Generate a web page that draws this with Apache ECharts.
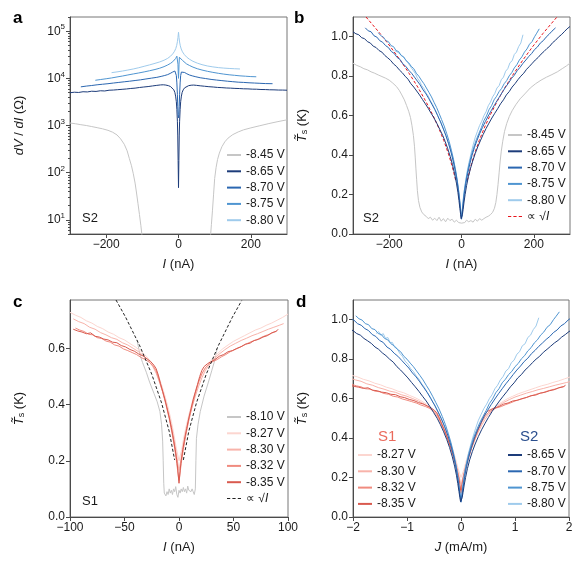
<!DOCTYPE html>
<html>
<head>
<meta charset="utf-8">
<script src="https://cdn.jsdelivr.net/npm/echarts@6/dist/echarts.min.js"></script>
<style>
html, body { margin: 0; padding: 0; background: #fff; }
#chart { width: 588px; height: 575px; }
</style>
</head>
<body>
<div id="chart"></div>
<script>
// 面板 a: dV/dI (Ω) vs I (nA), 样品 S2
const a845 = [[-300,1130],[-285,1090],[-270,1040],[-255,1000],[-240,950],[-225,900],[-210,850],[-195,790],[-182,720],[-170,630],[-160,520],[-150,400],[-142,290],[-136,200],[-130,140],[-125,95],[-120,60],[-116,37],[-112,22],[-108,13],[-104,7.5],[-100,4],
  [0,'-'],
  [88,4],[91,8],[94,16],[97,35],[100,75],[104,130],[108,190],[113,260],[120,355],[128,450],[137,540],[150,640],[165,730],[180,810],[200,890],[225,990],[250,1100],[275,1210],[300,1320]];
const a865 = [[-300,4950],[-288,5080],[-276,5020],[-264,5200],[-252,5150],[-240,5330],[-228,5280],[-216,5450],[-204,5400],[-192,5600],[-180,5650],[-168,5750],[-156,5850],[-144,5950],[-132,6100],[-120,6200],[-108,6400],[-96,6550],[-84,6700],[-72,6900],[-60,7100],[-50,7250],[-42,7300],[-35,7200],[-28,7000],[-22,6700],[-17,6300],[-13,5700],[-10,5000],[-8,4200],[-6,3200],[-4.5,2200],[-3,1200],[-2,600],[-1,180],[0,48],[1,180],[2,600],[3,1200],[4.5,2200],[6,3200],[8,4200],[10,5000],[13,5700],[17,6300],[22,6700],[28,7000],[35,7150],[42,7200],[50,7100],[60,6950],[72,6800],[84,6650],[96,6550],[108,6420],[120,6350],[132,6250],[144,6200],[156,6120],[168,6080],[180,6000],[192,5980],[204,5900],[216,5880],[228,5800],[240,5780],[252,5720],[264,5700],[276,5650],[288,5640],[300,5600]];
const a870 = [[-270,6600],[-255,6850],[-240,7050],[-225,7300],[-210,7500],[-195,7700],[-180,7950],[-165,8200],[-150,8450],[-135,8700],[-120,9000],[-105,9300],[-90,9700],[-75,10100],[-60,10500],[-48,11000],[-38,11500],[-30,12000],[-23,12700],[-17,13500],[-13,14100],[-10,14300],[-8,13600],[-6,11500],[-4.5,8000],[-3,4500],[-2,2500],[-1,1700],[0,1450],[1,1700],[2,2500],[3,4500],[4.5,8000],[6,11500],[8,13600],[10,14200],[13,13900],[17,13300],[23,12500],[30,11800],[38,11300],[48,10800],[60,10300],[75,9900],[90,9500],[105,9200],[120,8950],[135,8700],[150,8500],[165,8300],[180,8200],[195,8050],[210,7950],[225,7850],[240,7750],[260,7700]];
const a875 = [[-230,9100],[-215,9450],[-200,9800],[-185,10200],[-170,10700],[-155,11200],[-140,11800],[-125,12400],[-110,13000],[-95,13700],[-80,14500],[-65,15400],[-52,16400],[-40,17700],[-30,19200],[-22,20800],[-16,22500],[-11,24500],[-8,26300],[-6,28000],[-4.5,29500],[-3.5,30000],[-2.5,28000],[-1.5,20000],[-0.7,13000],[0,10000],[0.7,13000],[1.5,20000],[2.5,28000],[3.5,30000],[4.5,29300],[6,27800],[8,26000],[11,24000],[16,22000],[22,20300],[30,18800],[40,17300],[52,16000],[65,15000],[80,14100],[95,13400],[110,12800],[125,12300],[140,11900],[155,11600],[170,11300],[185,11100],[200,10900],[215,10800]];
const a880 = [[-185,13200],[-170,13700],[-155,14300],[-140,15000],[-125,15800],[-110,16800],[-95,18000],[-80,19300],[-65,20800],[-52,22300],[-40,24200],[-30,26500],[-22,29500],[-16,33000],[-11,37500],[-7.5,43000],[-5,50000],[-3,60000],[-1.5,73000],[0,95000],[1.5,73000],[3,59000],[5,49000],[7.5,42000],[11,36500],[16,32000],[22,28500],[30,25500],[40,23000],[52,21000],[65,19500],[80,18300],[95,17500],[110,16900],[125,16500],[140,16200],[155,16000],[170,15800]];

// 面板 b: T_s (K) vs I (nA), 样品 S2
const b845 = [[-300,0.866],[-290,0.855],[-280,0.848],[-270,0.838],[-260,0.832],[-250,0.822],[-240,0.815],[-230,0.806],[-220,0.798],[-210,0.79],[-200,0.78],[-190,0.765],[-180,0.748],[-172,0.728],[-165,0.705],[-158,0.68],[-152,0.652],[-146,0.622],[-141,0.59],[-137,0.55],[-133,0.5],[-130,0.445],[-128,0.39],[-126,0.33],[-124,0.275],[-122,0.22],[-119,0.17],[-115,0.135],[-110,0.112],[-104,0.098],[-98,0.09],[-92,0.078],[-86,0.085],[-80,0.07],[-74,0.08],[-68,0.068],[-62,0.085],[-56,0.065],[-50,0.078],[-44,0.062],[-38,0.08],[-32,0.068],[-26,0.075],[-20,0.06],[-14,0.07],[-8,0.058],[-3,0.062],[0,0.055],[4,0.065],[9,0.058],[14,0.07],[20,0.062],[26,0.068],[32,0.06],[38,0.075],[44,0.065],[50,0.078],[56,0.07],[62,0.078],[68,0.085],[74,0.09],[80,0.098],[86,0.11],[91,0.13],[95,0.16],[98,0.2],[101,0.25],[104,0.31],[107,0.37],[110,0.42],[114,0.47],[119,0.52],[125,0.56],[132,0.595],[140,0.625],[150,0.655],[162,0.685],[175,0.71],[190,0.74],[205,0.762],[220,0.78],[235,0.795],[250,0.808],[265,0.822],[280,0.84],[290,0.852],[300,0.866]];
const b865 = [[-300,1.025],[-292,1.015],[-284,1.01],[-276,0.995],[-268,0.99],[-260,0.975],[-252,0.968],[-244,0.952],[-236,0.945],[-228,0.93],[-220,0.922],[-212,0.905],[-204,0.893],[-196,0.88],[-188,0.862],[-180,0.85],[-172,0.832],[-164,0.818],[-156,0.8],[-148,0.785],[-140,0.762],[-132,0.745],[-124,0.725],[-116,0.705],[-108,0.682],[-100,0.66],[-92,0.637],[-84,0.612],[-76,0.588],[-68,0.56],[-60,0.53],[-52,0.5],[-45,0.468],[-38,0.432],[-31,0.392],[-25,0.352],[-19,0.305],[-14,0.258],[-10,0.212],[-7,0.17],[-4.5,0.13],[-2.5,0.1],[-1,0.078],[0,0.07],[1,0.078],[2.5,0.098],[4.5,0.125],[7,0.162],[10,0.2],[14,0.245],[19,0.29],[25,0.333],[31,0.37],[38,0.408],[45,0.442],[52,0.472],[60,0.505],[68,0.535],[76,0.562],[84,0.588],[92,0.612],[100,0.635],[108,0.66],[116,0.68],[124,0.705],[132,0.722],[140,0.745],[148,0.762],[156,0.782],[164,0.8],[172,0.815],[180,0.835],[188,0.85],[196,0.866],[204,0.882],[212,0.895],[220,0.912],[228,0.925],[236,0.94],[244,0.952],[252,0.97],[260,0.982],[268,0.998],[276,1.01],[284,1.025],[292,1.04],[300,1.052]];
const b870 = [[-266,1.045],[-258,1.03],[-250,1.025],[-242,1.005],[-234,0.998],[-226,0.98],[-218,0.972],[-210,0.955],[-202,0.945],[-194,0.925],[-186,0.915],[-178,0.895],[-170,0.885],[-162,0.862],[-154,0.85],[-146,0.83],[-138,0.815],[-130,0.795],[-122,0.775],[-114,0.755],[-106,0.73],[-98,0.71],[-90,0.685],[-82,0.658],[-74,0.632],[-66,0.6],[-58,0.568],[-50,0.532],[-43,0.498],[-36,0.46],[-29,0.415],[-23,0.37],[-17,0.318],[-12,0.265],[-8,0.21],[-5,0.16],[-2.5,0.115],[-1,0.088],[0,0.075],[1,0.088],[2.5,0.112],[5,0.155],[8,0.205],[12,0.255],[17,0.305],[23,0.355],[29,0.398],[36,0.44],[43,0.475],[50,0.508],[58,0.54],[66,0.57],[74,0.598],[82,0.625],[90,0.65],[98,0.675],[106,0.698],[114,0.722],[122,0.745],[130,0.765],[138,0.788],[146,0.805],[154,0.828],[162,0.845],[170,0.865],[178,0.882],[186,0.9],[194,0.915],[202,0.935],[210,0.948],[218,0.968],[226,0.98],[234,0.998],[242,1.012],[250,1.028],[260,1.045]];
const b875 = [[-230,1.02],[-223,1.005],[-216,0.998],[-209,0.98],[-202,0.975],[-195,0.955],[-188,0.95],[-181,0.93],[-174,0.925],[-167,0.905],[-160,0.898],[-153,0.878],[-146,0.868],[-139,0.85],[-132,0.838],[-125,0.815],[-118,0.8],[-111,0.78],[-104,0.762],[-97,0.74],[-90,0.718],[-83,0.695],[-76,0.668],[-69,0.642],[-62,0.612],[-55,0.58],[-48,0.548],[-41,0.51],[-34,0.468],[-28,0.425],[-22,0.378],[-17,0.33],[-12,0.275],[-8,0.222],[-5,0.172],[-2.5,0.125],[-1,0.095],[0,0.08],[1,0.095],[2.5,0.125],[5,0.172],[8,0.222],[12,0.27],[17,0.32],[22,0.362],[28,0.405],[34,0.44],[41,0.478],[48,0.51],[55,0.54],[62,0.575],[69,0.598],[76,0.63],[83,0.65],[90,0.68],[97,0.698],[104,0.722],[111,0.738],[118,0.762],[125,0.778],[132,0.802],[139,0.818],[146,0.842],[153,0.858],[160,0.882],[167,0.898],[174,0.922],[181,0.938],[188,0.962],[195,0.975],[202,1.0],[208,1.018],[215,1.04]];
const b880 = [[-185,0.93],[-180,0.94],[-175,0.92],[-170,0.93],[-165,0.905],[-160,0.91],[-155,0.885],[-150,0.885],[-145,0.86],[-140,0.855],[-134,0.83],[-128,0.815],[-122,0.79],[-116,0.775],[-110,0.752],[-104,0.738],[-98,0.715],[-92,0.7],[-86,0.675],[-80,0.658],[-74,0.632],[-68,0.612],[-62,0.585],[-56,0.562],[-50,0.532],[-44,0.505],[-38,0.47],[-32,0.438],[-26,0.398],[-21,0.36],[-16,0.318],[-12,0.272],[-8,0.222],[-5,0.172],[-2.5,0.125],[-1,0.098],[0,0.085],[1,0.1],[2.5,0.13],[5,0.18],[8,0.225],[12,0.275],[16,0.32],[21,0.365],[26,0.405],[32,0.45],[38,0.49],[44,0.52],[50,0.55],[56,0.572],[62,0.6],[68,0.62],[74,0.65],[80,0.668],[86,0.695],[92,0.712],[98,0.74],[104,0.752],[110,0.782],[116,0.795],[122,0.825],[128,0.838],[134,0.868],[140,0.878],[146,0.91],[152,0.922],[158,0.95],[164,0.968],[170,1.01]];
// ∝ √I 拟合线 (b)
const bFit = [[-264,1.10],[-225,1.016],[-196,0.948],[-169,0.88],[-144,0.812],[-121,0.745],[-100,0.677],[-81,0.609],[-64,0.542],[-49,0.474],[-36,0.406],[-25,0.338],[-16,0.271],
  [0,'-'],
  [16,0.271],[25,0.338],[36,0.406],[49,0.474],[64,0.542],[81,0.609],[100,0.677],[121,0.745],[144,0.812],[169,0.88],[196,0.948],[225,1.016],[256,1.083],[266,1.104]];

// 面板 c: T_s (K) vs I (nA), 样品 S1
const c810 = [[-38.5,0.63],[-36,0.58],[-33.5,0.55],[-30,0.515],[-27,0.48],[-23,0.44],[-20,0.41],[-17.5,0.375],[-16,0.33],[-15,0.27],[-14.5,0.2],[-14,0.12],[-13.5,0.085],[-12,0.075],[-11,0.09],[-10,0.08],[-9,0.1],[-8,0.085],[-7,0.095],[-6,0.08],[-5,0.1],[-4,0.09],[-3,0.108],[-2,0.08],[-1,0.07],[0,0.095],[1,0.085],[2,0.1],[3,0.09],[4,0.105],[5,0.09],[6,0.1],[7,0.085],[8,0.11],[9,0.095],[10,0.1],[11,0.09],[12,0.1],[13,0.09],[14,0.08],[15,0.1],[15.5,0.2],[16,0.28],[17.5,0.33],[19.5,0.375],[23,0.43],[27,0.48],[30,0.52],[33,0.56],[35,0.6]];
const c827 = [[-100,0.728],[-95,0.718],[-90,0.71],[-85,0.698],[-80,0.69],[-75,0.678],[-70,0.67],[-65,0.658],[-60,0.65],[-55,0.638],[-50,0.63],[-45,0.617],[-40,0.605],[-35,0.59],[-30,0.572],[-26,0.553],[-22,0.53],[-19,0.505],[-16,0.47],[-13,0.432],[-10,0.39],[-7,0.34],[-4.5,0.29],[-2.5,0.245],[0,0.2],[2.5,0.24],[4.5,0.285],[7,0.33],[10,0.378],[13,0.42],[16,0.458],[19,0.49],[22,0.515],[26,0.54],[30,0.56],[35,0.58],[40,0.598],[45,0.612],[50,0.625],[55,0.635],[60,0.645],[65,0.655],[70,0.665],[75,0.672],[80,0.682],[85,0.69],[90,0.7],[95,0.71],[100,0.722]];
const c830 = [[-97,0.705],[-92,0.695],[-87,0.688],[-82,0.675],[-77,0.668],[-72,0.656],[-67,0.648],[-62,0.638],[-57,0.632],[-52,0.62],[-47,0.612],[-42,0.6],[-37,0.588],[-32,0.572],[-28,0.556],[-24,0.535],[-21,0.512],[-18,0.48],[-15,0.445],[-12,0.405],[-9,0.36],[-6,0.305],[-4,0.262],[-2,0.215],[0,0.165],[2,0.21],[4,0.255],[6,0.295],[9,0.345],[12,0.39],[15,0.43],[18,0.465],[21,0.495],[24,0.52],[28,0.543],[32,0.562],[37,0.58],[42,0.595],[47,0.608],[52,0.618],[57,0.628],[62,0.636],[67,0.645],[72,0.652],[77,0.66],[82,0.668],[87,0.675],[92,0.682],[96,0.688]];
const c832 = [[-95,0.672],[-91,0.665],[-87,0.66],[-83,0.65],[-79,0.648],[-75,0.638],[-71,0.635],[-67,0.626],[-63,0.622],[-59,0.612],[-55,0.608],[-51,0.598],[-47,0.592],[-43,0.585],[-39,0.578],[-35,0.568],[-31,0.56],[-27,0.55],[-24,0.538],[-21,0.52],[-18,0.485],[-15,0.445],[-12,0.4],[-9,0.35],[-6,0.29],[-4,0.245],[-2,0.19],[-0.5,0.14],[0,0.13],[0.5,0.14],[2,0.19],[4,0.24],[6,0.285],[9,0.345],[12,0.395],[15,0.44],[18,0.48],[21,0.51],[24,0.53],[27,0.542],[31,0.553],[35,0.56],[39,0.57],[43,0.578],[47,0.588],[51,0.595],[55,0.602],[59,0.61],[63,0.618],[67,0.625],[71,0.63],[75,0.638],[79,0.645],[83,0.65],[87,0.658],[90,0.662]];
const c835 = [[-97,0.668],[-93,0.662],[-89,0.658],[-85,0.652],[-81,0.655],[-77,0.643],[-73,0.64],[-69,0.633],[-65,0.63],[-61,0.622],[-57,0.62],[-53,0.61],[-49,0.605],[-45,0.596],[-41,0.59],[-37,0.58],[-33,0.573],[-29,0.562],[-26,0.553],[-23,0.54],[-21,0.528],[-19,0.505],[-17,0.475],[-15,0.448],[-13,0.42],[-11,0.388],[-9,0.355],[-7,0.318],[-5,0.275],[-3.5,0.24],[-2,0.2],[-1,0.165],[0,0.12],[1,0.165],[2,0.2],[3.5,0.24],[5,0.275],[7,0.315],[9,0.352],[11,0.385],[13,0.418],[15,0.445],[17,0.472],[19,0.5],[21,0.522],[23,0.535],[26,0.545],[29,0.552],[33,0.56],[37,0.572],[41,0.578],[45,0.588],[49,0.592],[53,0.6],[57,0.606],[61,0.615],[65,0.618],[69,0.628],[73,0.632],[77,0.64],[81,0.645],[85,0.655],[89,0.66],[91,0.668]];
// ∝ √I 拟合线 (c)
const cFit = [[-57.8,0.772],[-49,0.711],[-36,0.609],[-25,0.508],[-16,0.406],[-9,0.305],[-4,0.203],
  [0,'-'],
  [4,0.203],[9,0.305],[16,0.406],[25,0.508],[36,0.609],[49,0.711],[57.5,0.77]];

// 面板 d: 电流换算成线电流密度 J (mA/m) 所用的样品宽度 (nA per mA/m)
const W_S1 = 47;
const W_S2 = 118;
const toJ = (arr, w) => arr.map(p => [p[0] / w, p[1]]);

const FONT = '"Liberation Sans", Arial, sans-serif';
const TXT = '#1a1a1a';
const AX = '#4a4a4a';

const COL = {
    g: '#c6c6c6',
    v865: '#1d3c7a', v870: '#2b67b1', v875: '#4f95d1', v880: '#9fcbec',
    v827: '#fcd6d0', v830: '#f8b3aa', v832: '#f08b7f', v835: '#d95a4f'
};

const minus = v => (v < 0 ? '\u2212' + Math.abs(v) : String(v));

function line(name, data, xi, yi, color, extra) {
    return Object.assign({
        type: 'line', name: name, data: data,
        xAxisIndex: xi, yAxisIndex: yi,
        symbol: 'none', showSymbol: false, clip: true, animation: false,
        lineStyle: { color: color, width: 1 },
        itemStyle: { color: color },
        emphasis: { disabled: true }
    }, extra || {});
}

const nameStyle = {
    color: TXT, fontSize: 13, fontFamily: FONT,
    rich: {
        i: { fontStyle: 'italic', fontSize: 13, fontFamily: FONT, color: TXT },
        s: { fontSize: 9, fontFamily: FONT, color: TXT, verticalAlign: 'bottom', lineHeight: 10 }
    }
};

function axisBase(gi) {
    return {
        gridIndex: gi,
        axisLine: { show: true, onZero: false, lineStyle: { color: AX, width: 1 } },
        axisTick: { show: true, inside: false, length: 4, lineStyle: { color: AX } },
        splitLine: { show: false },
        axisLabel: { color: TXT, fontSize: 12, fontFamily: FONT, margin: 5 },
        nameTextStyle: nameStyle,
        nameLocation: 'middle'
    };
}

function xAx(gi, min, max, vals, label) {
    const a = axisBase(gi);
    a.type = 'value'; a.min = min; a.max = max;
    a.axisLabel.customValues = vals;
    a.axisLabel.formatter = minus;
    a.axisTick.customValues = vals;
    a.name = label; a.nameGap = 24;
    return a;
}

function yLin(gi, max) {
    const a = axisBase(gi);
    a.type = 'value'; a.min = 0; a.max = max;
    const vals = [0, 0.2, 0.4, 0.6, 0.8, 1.0].filter(v => v <= max);
    a.axisLabel.customValues = vals;
    a.axisLabel.formatter = v => v.toFixed(1);
    a.axisTick.customValues = vals;
    a.name = '{i|T\u0303}{s|s} (K)'; a.nameGap = 44;
    return a;
}

// 对数轴
const yLogA = axisBase(0);
Object.assign(yLogA, {
    type: 'log', logBase: 10, min: 5, max: 200000, position: 'left',
    name: '{i|dV} / {i|dI} (\u03a9)', nameGap: 44
});
yLogA.axisLabel.customValues = [10, 100, 1000, 10000, 100000];
yLogA.axisLabel.formatter = v => '{b|10}{p|' + Math.round(Math.log10(v)) + '}';
yLogA.axisLabel.rich = {
    b: { fontSize: 12, fontFamily: FONT, color: TXT, lineHeight: 16 },
    p: { fontSize: 8, fontFamily: FONT, color: TXT, lineHeight: 16, verticalAlign: 'top', padding: [0, 0, 0, 0] }
};
yLogA.axisTick.customValues = [10, 100, 1000, 10000, 100000];

const minorVals = [];
[1, 10, 100, 1000, 10000, 100000].forEach(d => {
    [2, 3, 4, 5, 6, 7, 8, 9].forEach(m => { const v = m * d; if (v >= 5 && v <= 200000) minorVals.push(v); });
});
// 次刻度 (同一网格左侧)
const yLogAminor = {
    gridIndex: 0, type: 'log', logBase: 10, min: 5, max: 200000, position: 'left', offset: 0,
    axisLine: { show: false, onZero: false }, splitLine: { show: false },
    axisLabel: { show: false },
    axisTick: { show: true, inside: false, length: 2, customValues: minorVals, lineStyle: { color: AX } }
};

const grids = [
    { left: 70, top: 17, width: 217, height: 217 },
    { left: 353, top: 17, width: 217, height: 217 },
    { left: 70, top: 300, width: 218, height: 217 },
    { left: 353, top: 300, width: 216, height: 217 }
].map(g => Object.assign(g, { show: true, borderColor: '#777', borderWidth: 1, backgroundColor: 'transparent', containLabel: false }));

const fitName = '\u221d \u221aI';
const DASH_ICON = 'path://M0,0h3v1h-3z M5,0h3v1h-3z M10,0h3v1h-3z';

const series = [
    // a
    line('-8.45 V', a845, 0, 0, COL.g),
    line('-8.65 V', a865, 0, 0, COL.v865),
    line('-8.70 V', a870, 0, 0, COL.v870),
    line('-8.75 V', a875, 0, 0, COL.v875),
    line('-8.80 V', a880, 0, 0, COL.v880),
    // b
    line('-8.45 V', b845, 1, 2, COL.g),
    line(fitName, bFit, 1, 2, '#e8141c', { lineStyle: { color: '#e8141c', width: 1, type: [3, 2] } }),
    line('-8.80 V', b880, 1, 2, COL.v880),
    line('-8.75 V', b875, 1, 2, COL.v875),
    line('-8.70 V', b870, 1, 2, COL.v870),
    line('-8.65 V', b865, 1, 2, COL.v865),
    // c
    line('-8.10 V', c810, 2, 3, COL.g),
    line('-8.27 V', c827, 2, 3, COL.v827),
    line('-8.30 V', c830, 2, 3, COL.v830),
    line('-8.32 V', c832, 2, 3, COL.v832),
    line('-8.35 V', c835, 2, 3, COL.v835),
    line(fitName + ' ', cFit, 2, 3, '#222', { lineStyle: { color: '#222', width: 1, type: [3, 2] } }),
    // d
    line('-8.27 V', toJ(c827, W_S1), 3, 4, COL.v827),
    line('-8.30 V', toJ(c830, W_S1), 3, 4, COL.v830),
    line('-8.32 V', toJ(c832, W_S1), 3, 4, COL.v832),
    line('-8.35 V', toJ(c835, W_S1), 3, 4, COL.v835),
    line('-8.80 V', toJ(b880, W_S2), 3, 4, COL.v880),
    line('-8.75 V', toJ(b875, W_S2), 3, 4, COL.v875),
    line('-8.70 V', toJ(b870, W_S2), 3, 4, COL.v870),
    line('-8.65 V', toJ(b865, W_S2), 3, 4, COL.v865)
];

const legRich = {
    t: { fontSize: 12, fontFamily: FONT, color: TXT },
    i: { fontSize: 12, fontFamily: FONT, color: TXT, fontStyle: 'italic' }
};
function legend(names, left, top) {
    return {
        data: names.map(n => ({ name: n, icon: n.trim() === fitName ? DASH_ICON : 'rect' })),
        orient: 'vertical', left: left, top: top,
        itemWidth: 14, itemHeight: 2, itemGap: 2.3, padding: 0,
        selectedMode: false,
        itemStyle: { borderWidth: 0 },
        textStyle: { fontSize: 12, fontFamily: FONT, color: TXT, lineHeight: 14, rich: legRich },
        formatter: n => (n.trim() === fitName ? '{t|\u221d \u221a}{i|I}' : '{t|' + n + '}')
    };
}

const panelText = (txt, x, y, extra) => ({
    type: 'text', left: x, top: y,
    style: Object.assign({ text: txt, font: 'bold 17px ' + FONT, fill: '#000' }, extra || {})
});

const option = {
    backgroundColor: '#fff',
    animation: false,
    grid: grids,
    xAxis: [
        xAx(0, -300, 300, [-200, 0, 200], '{i|I} (nA)'),
        xAx(1, -300, 300, [-200, 0, 200], '{i|I} (nA)'),
        xAx(2, -100, 100, [-100, -50, 0, 50, 100], '{i|I} (nA)'),
        xAx(3, -2, 2, [-2, -1, 0, 1, 2], '{i|J} (mA/m)')
    ],
    yAxis: [yLogA, yLogAminor, yLin(1, 1.1), yLin(2, 0.772), yLin(3, 1.1)],
    legend: [
        legend(['-8.45 V', '-8.65 V', '-8.70 V', '-8.75 V', '-8.80 V'], 227, 148),
        legend(['-8.45 V', '-8.65 V', '-8.70 V', '-8.75 V', '-8.80 V', fitName], 508, 128),
        legend(['-8.10 V', '-8.27 V', '-8.30 V', '-8.32 V', '-8.35 V', fitName + ' '], 227, 410),
        legend(['-8.27 V', '-8.30 V', '-8.32 V', '-8.35 V'], 358, 448),
        legend(['-8.65 V', '-8.70 V', '-8.75 V', '-8.80 V'], 508, 448)
    ],
    graphic: [
        panelText('a', 13, 10),
        panelText('b', 294, 10),
        panelText('c', 13, 294),
        panelText('d', 296, 294),
        panelText('S2', 82, 212, { font: '13px ' + FONT, fill: TXT }),
        panelText('S2', 363, 212, { font: '13px ' + FONT, fill: TXT }),
        panelText('S1', 82, 495, { font: '13px ' + FONT, fill: TXT }),
        panelText('S1', 378, 429, { font: '15px ' + FONT, fill: '#ea6a5c' }),
        panelText('S2', 520, 429, { font: '15px ' + FONT, fill: '#2b4f8e' })
    ],
    series: series
};

const chart = echarts.init(document.getElementById('chart'), null, { renderer: 'canvas' });
chart.setOption(option);
</script>
</body>
</html>
